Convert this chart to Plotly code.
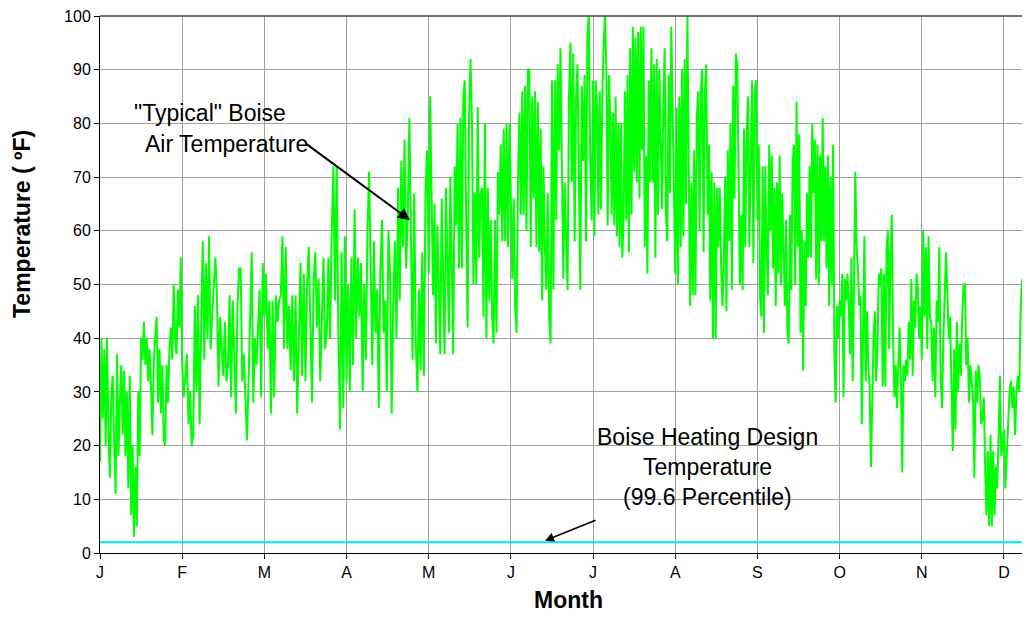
import numpy as np
import plotly.graph_objects as go

# ---------------- data ----------------
month_labels = ["J", "F", "M", "A", "M", "J", "J", "A", "S", "O", "N", "D"]
hours_per_month = 730
axis_end_hour = 8190
design_temp = 2  # Boise heating design temperature (99.6 percentile), deg F

jan = [17, 40, 25, 38, 20, 40, 22, 14, 30, 33, 20, 11, 37, 18, 28, 35, 22, 34, 18, 30,
       12, 33, 7, 20, 3, 16, 5, 30, 18, 40, 36, 43, 35, 40, 32, 38, 31, 22, 36, 40,
       44, 28, 38, 26, 35, 21, 20, 35, 28, 38, 42, 36, 50, 40, 37, 49, 42, 55]
feb = [35, 29, 33, 37, 24, 30, 20, 22, 46, 30, 48, 24, 42, 58, 36, 54, 40, 59, 38, 45,
       50, 55, 48, 31, 44, 38, 33, 43, 32, 35, 48, 29, 47, 37, 26, 46, 53, 53, 32, 37,
       27, 21, 32, 42, 56, 28, 40, 35, 42, 49, 29, 54]
mar = [44, 52, 38, 47, 26, 47, 29, 48, 43, 47, 48, 59, 38, 57, 38, 46, 34, 48, 32, 48,
       26, 44, 54, 33, 52, 32, 50, 57, 40, 28, 51, 56, 42, 51, 32, 43, 55, 38, 41, 55,
       40, 60, 72, 47, 72, 42, 23, 56, 27, 59]
apr = [32, 50, 30, 55, 35, 64, 40, 55, 44, 54, 30, 50, 36, 60, 71, 52, 35, 58, 41, 49,
       27, 53, 62, 41, 47, 30, 60, 53, 26, 47, 58, 40, 68, 47, 73, 57, 77, 53, 63, 81,
       61, 36, 67, 39, 30, 49, 34, 56, 33, 67, 75]
may = [52, 85, 67, 48, 65, 39, 61, 45, 37, 66, 48, 37, 68, 57, 41, 70, 55, 37, 72, 61,
       80, 53, 81, 53, 85, 88, 61, 42, 82, 92, 80, 50, 67, 50, 83, 55, 67, 68, 44, 80,
       40, 68, 47, 62, 44, 39, 62, 41, 71, 63, 76, 58, 79, 58, 80, 57, 80]
jun = [66, 51, 66, 46, 41, 69, 82, 63, 86, 63, 87, 60, 90, 90, 57, 85, 66, 86, 57, 84,
       56, 79, 47, 72, 57, 49, 67, 44, 39, 88, 49, 88, 62, 91, 75, 94, 72, 51, 69, 57,
       49, 85, 95, 69, 93, 58, 85, 91, 63, 49, 87, 73, 89, 58, 97, 100, 73, 62]
jul = [88, 59, 88, 83, 63, 86, 64, 86, 95, 100, 90, 61, 89, 80, 63, 82, 61, 85, 59, 80,
       57, 80, 55, 62, 86, 62, 89, 56, 94, 63, 98, 71, 96, 69, 97, 66, 98, 75, 98, 57,
       74, 52, 88, 69, 94, 69, 91, 55, 92, 63, 90, 73, 64, 84, 94, 63, 58, 89, 67, 98,
       83, 63]
aug = [52, 83, 50, 85, 57, 90, 59, 92, 65, 100, 65, 46, 69, 48, 75, 48, 81, 86, 60, 86,
       90, 56, 86, 91, 63, 76, 47, 71, 40, 69, 40, 68, 57, 68, 54, 46, 54, 70, 45, 75,
       58, 80, 49, 87, 66, 93, 91, 64, 50, 63, 49, 79, 57, 78, 85, 57, 76, 88, 54, 86,
       88]
sep = [62, 76, 48, 44, 72, 41, 72, 57, 48, 76, 60, 74, 53, 68, 46, 69, 52, 74, 50, 67,
       57, 46, 62, 41, 39, 63, 49, 73, 76, 50, 84, 57, 78, 41, 60, 34, 58, 46, 67, 55,
       72, 55, 80, 67, 77, 51, 76, 50, 74, 58, 81, 58, 72, 53, 74, 46, 70, 50, 76, 37,
       28, 46, 40]
oct_ = [47, 44, 52, 29, 51, 47, 52, 46, 37, 55, 32, 50, 71, 57, 53, 46, 48, 24, 40, 59,
        32, 45, 35, 31, 16, 30, 40, 45, 32, 38, 52, 50, 53, 31, 52, 31, 57, 60, 38, 55,
        63, 40, 29, 35, 27, 35, 42, 32, 15, 35, 32, 36, 33, 43, 36, 51, 33, 47, 42, 52,
        49, 40, 46]
nov = [36, 60, 44, 57, 38, 59, 44, 43, 32, 42, 29, 47, 43, 57, 32, 27, 40, 47, 56, 48,
       40, 44, 29, 19, 38, 23, 43, 30, 39, 33, 44, 50, 50, 35, 40, 28, 35, 32, 29, 14,
       34, 28, 35, 33, 24, 25, 29, 16, 7, 19, 5, 22, 5, 19, 7, 16, 12, 22, 33, 18, 20]
dec = [23, 12, 18, 21, 30, 32, 27, 31, 22, 30, 33, 30, 45, 51]

months = [jan, feb, mar, apr, may, jun, jul, aug, sep, oct_, nov, dec]

# ---------------- build series ----------------
x_all, y_all = [], []
for m, vals in enumerate(months):
    start = m * hours_per_month
    last = (m == len(months) - 1)
    end = axis_end_hour if last else start + hours_per_month
    xs = np.linspace(start, end, len(vals), endpoint=last)
    x_all.extend(xs.tolist())
    y_all.extend(vals)

FONT = "Arial, Liberation Sans, sans-serif"

fig = go.Figure()
fig.add_trace(go.Scatter(x=x_all, y=y_all, mode="lines",
                         line=dict(color="#00FF00", width=2), hoverinfo="skip"))
fig.add_trace(go.Scatter(x=[0, axis_end_hour], y=[design_temp, design_temp], mode="lines",
                         line=dict(color="#00E5EE", width=2), hoverinfo="skip"))

tickvals = [i * hours_per_month for i in range(len(month_labels))]

fig.update_layout(
    width=1025, height=640,
    margin=dict(l=100, r=3, t=16, b=87),
    paper_bgcolor="white", plot_bgcolor="white",
    showlegend=False,
    font=dict(family=FONT, size=16, color="black"),
    xaxis=dict(range=[0, axis_end_hour], tickvals=tickvals, ticktext=month_labels,
               showgrid=True, gridcolor="#A0A0A0", gridwidth=1,
               showline=True, linecolor="black", linewidth=1,
               ticks="outside", ticklen=5, tickcolor="black",
               zeroline=False, tickfont=dict(size=16)),
    yaxis=dict(range=[0, 100], dtick=10, showgrid=True, gridcolor="#A0A0A0", gridwidth=1,
               showline=True, linecolor="black", linewidth=1,
               ticks="outside", ticklen=5, tickcolor="black",
               zeroline=False, tickfont=dict(size=16)),
)

# top border line
fig.add_shape(type="line", xref="paper", yref="paper", x0=0, x1=1, y0=1, y1=1,
              line=dict(color="#404040", width=1.5))


def px_x(p):
    return (p - 100) / 922.0


def px_y(p):
    return (553 - p) / 537.0


# axis titles
fig.add_annotation(text="<b>Month</b>", xref="paper", yref="paper",
                   x=px_x(568), y=px_y(600), xanchor="center", yanchor="middle",
                   showarrow=False, font=dict(size=23, family=FONT))
fig.add_annotation(text="<b>Temperature ( ºF)</b>", xref="paper", yref="paper",
                   x=px_x(22), y=px_y(224), xanchor="center", yanchor="middle",
                   showarrow=False, textangle=-90, font=dict(size=23, family=FONT))

# annotation texts
for txt, cx, cy in [('"Typical" Boise', 210, 113), ("Air Temperature", 226, 144),
                    ("Boise Heating Design", 707, 437), ("Temperature", 707, 467),
                    ("(99.6 Percentile)", 707, 497)]:
    fig.add_annotation(text=txt, xref="paper", yref="paper", x=px_x(cx), y=px_y(cy),
                       xanchor="center", yanchor="middle",
                       showarrow=False, font=dict(size=23, family=FONT))

# arrows
fig.add_annotation(text="", x=2754, y=62, xref="x", yref="y", ax=-105, ay=-77,
                   showarrow=True, arrowhead=2, arrowsize=1.2, arrowwidth=2,
                   arrowcolor="black")
fig.add_annotation(text="", x=3953, y=2.3, xref="x", yref="y", ax=52, ay=-21,
                   showarrow=True, arrowhead=2, arrowsize=1.2, arrowwidth=1.5,
                   arrowcolor="black")

fig.write_html("out.html", config={"displayModeBar": False},
               post_script="document.body.style.margin='0';")
